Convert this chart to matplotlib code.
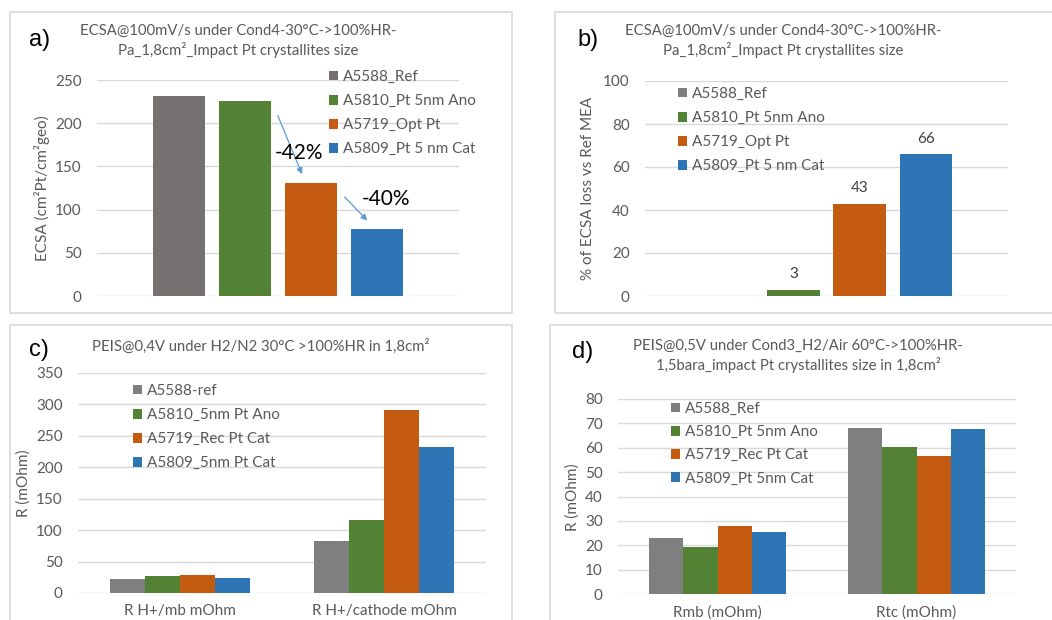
import numpy as np
import matplotlib
matplotlib.use('Agg')
import matplotlib.pyplot as plt
from matplotlib.patches import Rectangle

W, H = 1052, 620

plt.rcParams['font.family'] = ['Lato', 'DejaVu Sans']

TXT = '#595959'
GRID = '#D9D9D9'
FS = 11
FS_TITLE = 10.7

# ECSA panels (a, b)
ecsa_names = ['A5588_Ref', 'A5810_Pt 5nm Ano', 'A5719_Opt Pt', 'A5809_Pt 5 nm Cat']
ecsa_values = [231, 226, 131, 78]
ecsa_loss = [0, 3, 43, 66]
ecsa_steps = ['-42%', '-40%']
ecsa_colors = ['#767171', '#548235', '#C55A11', '#2E75B6']

# PEIS H2/N2 (c)
n2_cats = ['R H+/mb mOhm', 'R H+/cathode mOhm']
n2_names = ['A5588-ref', 'A5810_5nm Pt Ano', 'A5719_Rec Pt Cat', 'A5809_5nm Pt Cat']
n2_ref = [22.8, 82.7]
n2_ano = [27.6, 116.0]
n2_rec = [28.6, 290.6]
n2_cat = [23.3, 232.8]

# PEIS H2/Air (d)
air_cats = ['Rmb (mOhm)', 'Rtc (mOhm)']
air_names = ['A5588_Ref', 'A5810_Pt 5nm Ano', 'A5719_Rec Pt Cat', 'A5809_Pt 5nm Cat']
air_ref = [22.9, 68.3]
air_ano = [19.4, 60.3]
air_rec = [28.1, 56.8]
air_cat = [25.3, 67.6]

series_colors = ['#7F7F7F', '#548235', '#C55A11', '#2E75B6']


def rect(x0, y0, x1, y1):
    """pixel box (origin top-left) -> figure fraction [l, b, w, h]"""
    return [x0 / W, 1 - y1 / H, (x1 - x0) / W, (y1 - y0) / H]


def fxy(x, y):
    return x / W, 1 - y / H


def style_axes(ax, ymax, step):
    ax.set_ylim(0, ymax)
    ax.set_yticks(np.arange(0, ymax + step, step))
    ax.grid(axis='y', color=GRID, linewidth=1)
    ax.set_axisbelow(True)
    for s in ax.spines.values():
        s.set_visible(False)
    ax.patch.set_alpha(0)
    ax.tick_params(axis='y', length=0, pad=11, labelsize=FS, labelcolor=TXT)
    ax.tick_params(axis='x', length=0, pad=8, labelsize=FS, labelcolor=TXT)


def panel_frame(fig, x0, y0, x1, y1):
    l, b, w, h = rect(x0, y0, x1, y1)
    fig.patches.append(Rectangle((l, b), w, h, transform=fig.transFigure,
                                 fill=False, edgecolor=GRID, linewidth=1.2))


def add_legend(ax, fig, x, y, spacing=0.66):
    ax.legend(loc='upper left', bbox_to_anchor=fxy(x, y), bbox_transform=fig.transFigure,
              frameon=False, fontsize=FS, labelcolor=TXT, handlelength=0.6,
              handleheight=0.6, handletextpad=0.3, labelspacing=spacing, borderpad=0,
              borderaxespad=0)


def letter(fig, x, y, s):
    fig.text(*fxy(x, y), s, ha='left', va='center', fontsize=17,
             family=['Liberation Sans', 'DejaVu Sans'], color='black')


fig = plt.figure(figsize=(W / 100, H / 100), dpi=100)
fig.patch.set_facecolor('white')

panel_frame(fig, 10, 12, 512, 313)
panel_frame(fig, 555, 12, 1060, 313)
panel_frame(fig, 10, 325, 512, 640)
panel_frame(fig, 550, 325, 1060, 640)

ecsa_title = 'ECSA@100mV/s under Cond4-30°C->100%HR-\nPa_1,8cm²_Impact Pt crystallites size'

# a) ECSA per MEA
ax = fig.add_axes(rect(97, 80, 459, 296))
pos = np.arange(len(ecsa_values))
for i in pos:
    ax.bar(pos[i], ecsa_values[i], width=0.79, color=ecsa_colors[i], label=ecsa_names[i])
ax.set_xlim(-1.24, 4.24)
ax.set_xticks([])
style_axes(ax, 250, 50)
add_legend(ax, fig, 329, 70)
for k in range(len(ecsa_steps)):
    i = k + 1
    ax.annotate('', xy=(i + 0.88, ecsa_values[i + 1] + 7), xytext=(i + 0.48, ecsa_values[i] - 14),
                arrowprops=dict(arrowstyle='-|>', color='#5B9BD5', lw=0.9, mutation_scale=9))
ax.text(1.82, 165, ecsa_steps[0], ha='center', va='center', fontsize=15, color='black')
ax.text(3.14, 112, ecsa_steps[1], ha='center', va='center', fontsize=15, color='black')
fig.text(*fxy(238, 41), ecsa_title, ha='center', va='center', fontsize=FS_TITLE, color=TXT,
         linespacing=1.35)
fig.text(*fxy(42, 188), 'ECSA (cm²Pt/cm²geo)', rotation=90, ha='center', va='center',
         fontsize=FS, color=TXT)
letter(fig, 29, 40, 'a)')

# b) ECSA loss vs reference
ax = fig.add_axes(rect(645, 81, 1008, 296))
for i in pos:
    ax.bar(pos[i], ecsa_loss[i], width=0.79, color=ecsa_colors[i] if i else '#7F7F7F',
           label=ecsa_names[i])
    if ecsa_loss[i] > 0:
        ax.annotate(f'{ecsa_loss[i]:.0f}', (pos[i], ecsa_loss[i]), xytext=(0, 6),
                    textcoords='offset points', ha='center', va='bottom', fontsize=FS,
                    color='#404040')
ax.set_xlim(-1.24, 4.24)
ax.set_xticks([])
style_axes(ax, 100, 20)
add_legend(ax, fig, 678, 87)
fig.text(*fxy(783, 41), ecsa_title, ha='center', va='center', fontsize=FS_TITLE, color=TXT,
         linespacing=1.35)
fig.text(*fxy(588, 188), '% of ECSA loss vs Ref MEA', rotation=90, ha='center', va='center',
         fontsize=FS, color=TXT)
letter(fig, 577, 40, 'b)')


def grouped(ax, cats, names, series, width=0.172):
    x = np.arange(len(cats))
    n = len(series)
    for j, vals in enumerate(series):
        ax.bar(x + (j - (n - 1) / 2) * width, vals, width=width, color=series_colors[j],
               label=names[j])
    ax.set_xlim(-0.5, len(cats) - 0.5)
    ax.set_xticks(x, cats)


# c) PEIS H2/N2
ax = fig.add_axes(rect(78, 373, 486, 593))
grouped(ax, n2_cats, n2_names, [n2_ref, n2_ano, n2_rec, n2_cat])
style_axes(ax, 350, 50)
add_legend(ax, fig, 133, 384)
fig.text(*fxy(261, 346), 'PEIS@0,4V under H2/N2 30°C >100%HR in 1,8cm²', ha='center',
         va='center', fontsize=FS_TITLE, color=TXT)
fig.text(*fxy(24, 483), 'R (mOhm)', rotation=90, ha='center', va='center', fontsize=FS,
         color=TXT)
letter(fig, 29, 350, 'c)')

# d) PEIS H2/Air
ax = fig.add_axes(rect(618, 399, 1016, 594))
grouped(ax, air_cats, air_names, [air_ref, air_ano, air_rec, air_cat])
style_axes(ax, 80, 10)
add_legend(ax, fig, 671, 402, spacing=0.6)
fig.text(*fxy(798, 356),
         'PEIS@0,5V under Cond3_H2/Air 60°C->100%HR-\n1,5bara_impact Pt crystallites size in 1,8cm²',
         ha='center', va='center', fontsize=FS_TITLE, color=TXT, linespacing=1.35)
fig.text(*fxy(573, 497), 'R (mOhm)', rotation=90, ha='center', va='center', fontsize=FS,
         color=TXT)
letter(fig, 572, 352, 'd)')

fig.savefig('out.png', dpi=100)
